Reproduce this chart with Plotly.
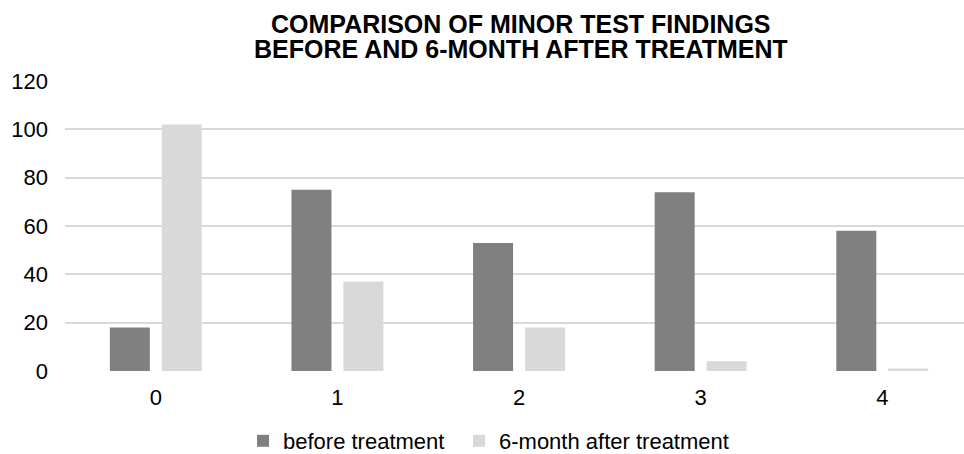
import plotly.graph_objects as go

# Minor test score categories and patient counts per category
categories = ["0", "1", "2", "3", "4"]
before_treatment = [18, 75, 53, 74, 58]
after_6_months = [102, 37, 18, 4, 1]
y_ticks = [0, 20, 40, 60, 80, 100, 120]

title_lines = [
    "COMPARISON OF MINOR TEST FINDINGS",
    "BEFORE AND 6-MONTH AFTER TREATMENT",
]

FONT = "Liberation Sans, Arial, sans-serif"

fig = go.Figure()
fig.add_trace(go.Bar(
    x=categories, y=before_treatment, name="before treatment",
    marker=dict(color="#808080", line=dict(width=0)),
    legendwidth=171,
))
fig.add_trace(go.Bar(
    x=categories, y=after_6_months, name="6-month after treatment",
    marker=dict(color="#d9d9d9", line=dict(width=0)),
    legendwidth=250,
))

# Two-line bold heading, set as separate lines for tight line spacing
for line, ypos in zip(title_lines, [1.2, 1.2 - 25 / 290]):
    fig.add_annotation(
        text=f"<b>{line}</b>", xref="paper", yref="paper",
        x=0.507, y=ypos, xanchor="center", yanchor="middle",
        height=23, valign="middle", borderpad=0,
        showarrow=False,
        font=dict(family=FONT, size=25, color="#000000"),
    )

fig.update_layout(
    width=964, height=454,
    margin=dict(l=65, r=0, t=81, b=83, autoexpand=False),
    paper_bgcolor="white", plot_bgcolor="white",
    barmode="group", bargap=0.428, bargroupgap=0.23,
    font=dict(family=FONT, size=22, color="#000000"),
    showlegend=True,
    legend=dict(
        orientation="h", x=(243 - 65) / 899, xref="paper", xanchor="left",
        y=(371 - 462) / 290, yref="paper", yanchor="bottom",
        font=dict(family=FONT, size=22, color="#000000"),
        itemwidth=30, traceorder="normal",
    ),
    xaxis=dict(
        type="category", range=[-0.5, 4.45],
        showgrid=False, showline=False, zeroline=False,
        ticks="", ticklabelstandoff=11,
        tickfont=dict(family=FONT, size=22, color="#000000"),
    ),
    yaxis=dict(
        range=[0, 120], tickvals=y_ticks,
        showgrid=True, gridcolor="#d9d9d9", gridwidth=1.5,
        zeroline=False, showline=False, ticks="",
        ticklabelstandoff=16,
        tickfont=dict(family=FONT, size=22, color="#000000"),
    ),
)

fig.write_html("out.html")
